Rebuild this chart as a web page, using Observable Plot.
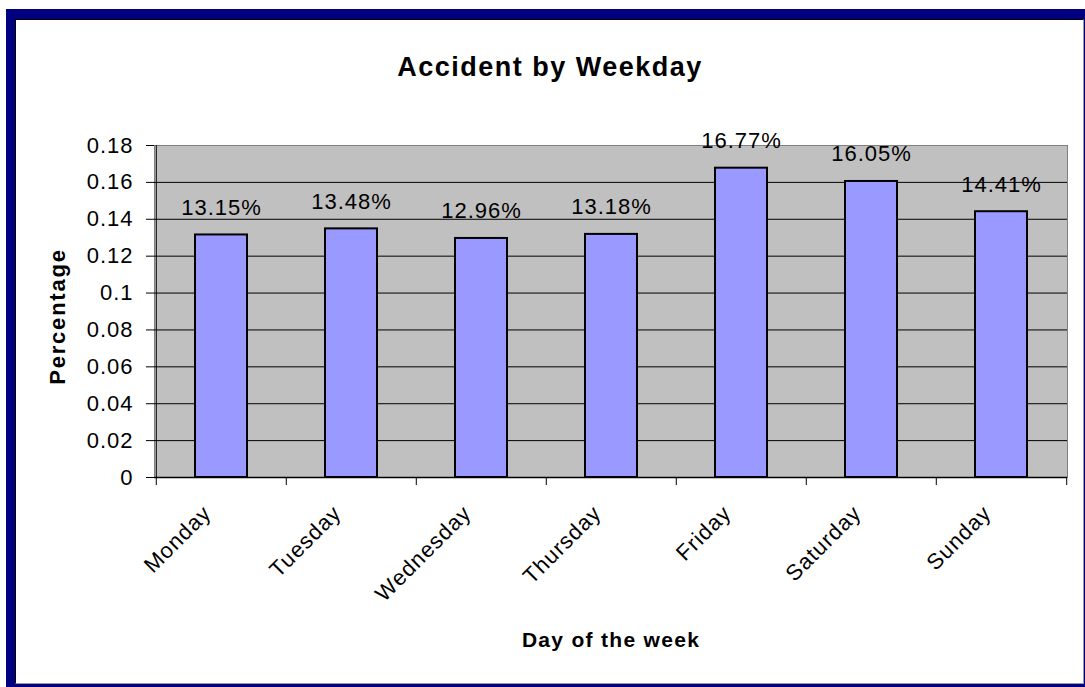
<!DOCTYPE html>
<html><head><meta charset="utf-8">
<script src="https://cdn.jsdelivr.net/npm/d3@7"></script>
<script src="https://cdn.jsdelivr.net/npm/@observablehq/plot@0.6"></script>
<style>
html,body{margin:0;padding:0;background:#fff;overflow:hidden;width:1085px;height:687px}
#outer{position:absolute;left:6px;top:9px;width:1079px;height:678px;background:#000080}
#inner{position:absolute;left:15px;top:19px;width:1069px;height:665px;box-sizing:border-box;background:#fff;border-left:1px solid #000;border-top:1px solid #000;border-right:1px solid #9a9a9a;border-bottom:1px solid #9a9a9a}
#chart{position:absolute;left:0;top:0}
</style></head><body>
<div id="outer"></div><div id="inner"></div><div id="chart"></div>
<script>
const days = ["Monday","Tuesday","Wednesday","Thursday","Friday","Saturday","Sunday"];
const shares = [0.1315, 0.1348, 0.1296, 0.1318, 0.1677, 0.1605, 0.1441];
const yTicks = [0, 0.02, 0.04, 0.06, 0.08, 0.1, 0.12, 0.14, 0.16, 0.18];
const yTickLabels = ["0","0.02","0.04","0.06","0.08","0.1","0.12","0.14","0.16","0.18"];
const title = "Accident by Weekday";
const xTitle = "Day of the week";
const yTitle = "Percentage";

const data = days.map((d, i) => ({day: d, share: shares[i], label: (shares[i] * 100).toFixed(2) + "%"}));

const W = 1085, H = 687, mL = 154, mR = 18, mT = 145, mB = 210;
const plotW = W - mL - mR;
const step = plotW / days.length;
const chartCenter = (16 + 1083) / 2;
const frameCenter = mL + plotW / 2;
const font = "'Liberation Sans', Arial, Helvetica, sans-serif";

const svg = Plot.plot({
  width: W, height: H,
  marginLeft: mL, marginRight: mR, marginTop: mT, marginBottom: mB,
  style: {background: "transparent", fontFamily: font, color: "#000", overflow: "visible"},
  x: {domain: days, paddingInner: 0.6, paddingOuter: 0.3, label: null},
  y: {domain: [0, yTicks[yTicks.length - 1]], label: null},
  marks: [
    Plot.frame({fill: "#c0c0c0", stroke: "#808080"}),
    Plot.ruleY(yTicks.filter((t, i) => i > 0 && i < yTicks.length - 1), {stroke: "#000", strokeWidth: 1}),
    Plot.ruleX([days[0]], {dx: -step / 2, stroke: "#000", strokeWidth: 1}),
    Plot.ruleY([0], {stroke: "#000", strokeWidth: 1.5}),
    Plot.barY(data, {x: "day", y: "share", fill: "#9999ff", stroke: "#000", strokeWidth: 2}),
    Plot.text(data, {x: "day", y: "share", text: "label", dy: -20, lineAnchor: "bottom", fontSize: 22, fill: "#000"}),
    Plot.axisY({ticks: yTicks, tickFormat: d => yTickLabels[yTicks.indexOf(d)], tickSize: 8, tickPadding: 13, fontSize: 22, label: null}),
    Plot.axisX({ticks: days, tickSize: 8, dx: -step / 2, tickFormat: () => "", label: null}),
    Plot.axisX({ticks: [days[days.length - 1]], tickSize: 8, dx: step / 2, tickFormat: () => "", label: null}),
    Plot.text(days, {x: d => d, frameAnchor: "bottom", rotate: -45, textAnchor: "end", lineAnchor: "bottom", dy: 37, dx: -9, fontSize: 22, fill: "#000"}),
    Plot.text([title], {frameAnchor: "top", textAnchor: "middle", dx: chartCenter - frameCenter, dy: 75 - mT, lineAnchor: "bottom", fontSize: 27, fontWeight: "bold", fill: "#000"}),
    Plot.text([xTitle], {frameAnchor: "bottom", textAnchor: "middle", dy: 646 - (H - mB), lineAnchor: "bottom", fontSize: 21, fontWeight: "bold", fill: "#000"}),
    Plot.text([yTitle], {frameAnchor: "left", textAnchor: "middle", dx: 57 - mL, dy: 5, rotate: -90, lineAnchor: "middle", fontSize: 22, fontWeight: "bold", fill: "#000"})
  ]
});
document.getElementById("chart").appendChild(svg);

d3.select(svg).selectAll("text").each(function () {
  const t = this.textContent;
  let ls = "1px";
  if (t === title) ls = "1.5px";
  else if (t === xTitle) ls = "1.3px";
  else if (t === yTitle) ls = "1.8px";
  this.style.letterSpacing = ls;
});
</script>
</body></html>
